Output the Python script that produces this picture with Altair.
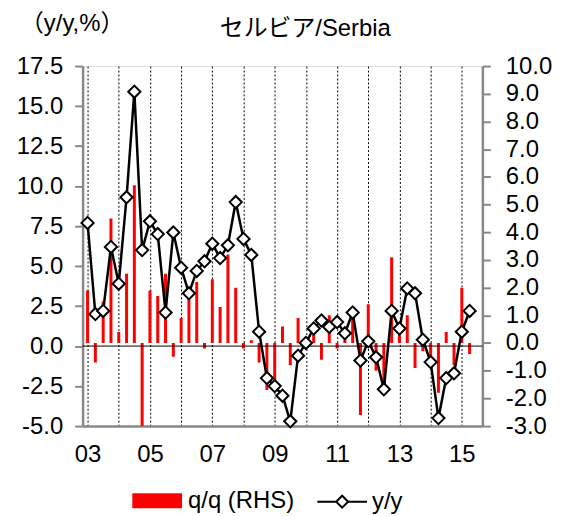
import altair as alt
import pandas as pd

# quarters 2003Q1 .. 2015Q2
quarters = [f"{y}Q{q}" for y in range(2003, 2016) for q in range(1, 5)][:50]

yy = [7.7, 2.0, 2.2, 6.2, 3.9, 9.3, 15.9, 6.0, 7.8, 7.0,
      2.1, 7.1, 4.9, 3.3, 4.7, 5.3, 6.4, 5.5, 6.3, 9.0,
      6.7, 5.7, 0.9, -2.0, -2.5, -3.1, -4.7, -0.6, 0.2, 1.1,
      1.6, 1.2, 1.5, 0.8, 2.1, -0.9, 0.3, -0.7, -2.7, 2.2,
      1.1, 3.6, 3.3, 0.4, -1.0, -4.5, -2.0, -1.7, 0.9, 2.2]

qq = [1.9, -0.7, 1.5, 4.5, 0.4, 2.5, 5.7, -3.0, 1.9, 1.7,
      2.5, -0.5, 0.9, 1.6, 2.2, -0.2, 2.3, 1.3, 3.2, 2.0,
      -0.2, 0.1, -0.7, -1.7, -1.7, 0.6, -0.8, 0.9, 0.0, 0.6,
      -0.6, 1.0, -0.2, 0.3, 0.9, -2.6, 1.4, -1.0, -1.5, 3.1,
      0.5, 1.0, -0.9, -0.3, -0.7, -1.8, 0.4, -0.8, 2.0, -0.4]

year_labels = ["03", "05", "07", "09", "11", "13", "15"]
left_ticks = [-5.0, -2.5, 0.0, 2.5, 5.0, 7.5, 10.0, 12.5, 15.0, 17.5]
right_ticks = [-3, -2, -1, 0, 1, 2, 3, 4, 5, 6, 7, 8, 9, 10]

df = pd.DataFrame({
    "t": list(range(len(quarters))),
    "quarter": quarters,
    "yy": yy,
    "qq": qq,
    "s_bar": "q/q (RHS)",
    "s_line": "y/y",
})

FONT = "Liberation Sans, Arial, Noto Sans CJK JP"
GRAY = "#888888"
FS = 24
NUM_EXPR = "replace(format(datum.value, '.1f'), '\u2212', '-')"

# label expression built from the label list (one label every 2 years = 8 quarters)
expr = "''"
for i, lab in reversed(list(enumerate(year_labels))):
    expr = f"datum.value == {i * 8} ? '{lab}' : ({expr})"

x_enc = alt.X(
    "t:Q",
    scale=alt.Scale(domain=[0, 50], nice=False, zero=False),
    axis=alt.Axis(
        values=list(range(0, 49, 4)), labelExpr=expr, title=None,
        grid=True, gridDash=[2, 2], gridColor="black", gridWidth=1, gridOpacity=1,
        ticks=False, domainColor=GRAY, domainWidth=2.5,
        labelFontSize=FS, labelFont=FONT, labelColor="black", labelPadding=17,
        labelFlush=False, labelOverlap=False,
    ),
)

right_scale = alt.Scale(domain=[-3, 10], nice=False, zero=False)
left_scale = alt.Scale(domain=[-5, 17.5], nice=False, zero=False)

bars = alt.Chart(df).mark_bar(size=3, clip=True).encode(
    x=x_enc,
    y=alt.Y("qq:Q", scale=right_scale, axis=alt.Axis(
        orient="right", values=right_ticks, labelExpr=NUM_EXPR, title=None,
        grid=False, tickSize=8, tickColor=GRAY, tickWidth=2,
        domainColor=GRAY, domainWidth=2.5,
        labelFontSize=FS, labelFont=FONT, labelColor="black", labelPadding=15,
    )),
    y2=alt.datum(0),
    fill=alt.Fill("s_bar:N", scale=alt.Scale(domain=["q/q (RHS)"], range=["#ff0000"]),
                  legend=alt.Legend(
                      title=None, orient="none", legendX=50, legendY=412,
                      symbolType="M-1,-0.3H1V0.3H-1Z", symbolSize=2500,
                      symbolStrokeWidth=0, labelFontSize=FS, labelFont=FONT,
                      labelColor="black", labelOffset=6, padding=0,
                  )),
)

zero = alt.Chart(df).mark_rule(color="black", strokeWidth=1).encode(
    y=alt.Y("z:Q", scale=left_scale, axis=None),
).transform_aggregate(z="min(t)").transform_calculate(z="0")

line = alt.Chart(df).mark_line(
    strokeWidth=2.5, color="black",
    point=alt.OverlayMarkDef(shape="diamond", filled=True, fill="white",
                             stroke="black", strokeWidth=2, size=150, opacity=1),
).encode(
    x=x_enc,
    y=alt.Y("yy:Q", scale=left_scale, axis=alt.Axis(
        orient="left", values=left_ticks, labelExpr=NUM_EXPR,
        title="（y/y,%）", titleAngle=0, titleX=-11, titleY=-43,
        titleAlign="center", titleBaseline="middle",
        titleFontSize=FS, titleFont=FONT, titleFontWeight="normal", titleColor="black",
        grid=False, tickSize=8, tickColor=GRAY, tickWidth=2,
        domainColor=GRAY, domainWidth=2.5,
        labelFontSize=FS, labelFont=FONT, labelColor="black", labelPadding=12,
    )),
    stroke=alt.Stroke("s_line:N", scale=alt.Scale(domain=["y/y"], range=["black"]),
                      legend=alt.Legend(
                          title=None, orient="none", legendX=235, legendY=412,
                          symbolType="M-1,0H-0.24M0.24,0H1M-0.24,0L0,-0.24L0.24,0L0,0.24Z",
                          symbolSize=2500, symbolStrokeWidth=2, symbolFillColor="white",
                          labelFontSize=FS, labelFont=FONT, labelColor="black",
                          labelOffset=4, padding=0,
                      )),
)

chart = alt.layer(bars, zero, line).resolve_scale(
    y="independent", fill="independent", stroke="independent"
).properties(
    width=402, height=362,
    autosize=alt.AutoSizeParams(type="none"),
    padding={"left": 75, "top": 57, "right": 72, "bottom": 88},
    title=alt.TitleParams("セルビア/Serbia", anchor="middle", dx=23, dy=30, offset=0,
                          fontSize=FS, font=FONT, fontWeight="normal", color="black"),
).configure_view(stroke=GRAY, strokeWidth=2).configure(background="white")

chart.save("out.html", embed_options={"renderer": "svg", "actions": False})
